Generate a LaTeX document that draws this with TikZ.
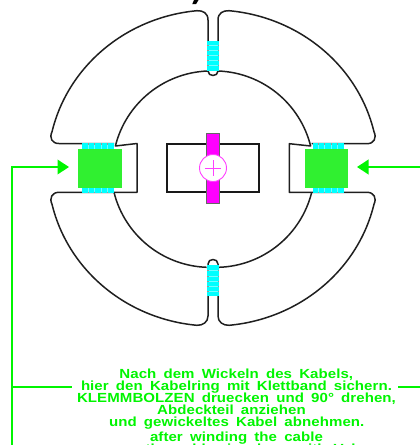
\documentclass[tikz,border=0pt]{standalone}
\usepackage{fontspec}
\setmainfont{Liberation Sans}
\newfontfamily\capfont[FakeStretch=1.14,WordSpace=1.7,LetterSpace=0.4,BoldFont={Liberation Sans Bold}]{Liberation Sans}
\definecolor{lime}{RGB}{0,245,0}
\definecolor{pad}{RGB}{48,240,48}
\definecolor{coil}{RGB}{0,255,255}
\definecolor{bolt}{RGB}{255,0,255}
\usetikzlibrary{arrows.meta}
\tikzset{
  body/.style={draw=black!88,line width=1.5pt,line join=round},
  heavy/.style={draw=black!90,line width=1.7pt},
  lead/.style={draw=lime,line width=2.1pt},
  pointer/.style={lead,-{Triangle[length=11.5pt,width=14.5pt]}},
  coilbox/.style={fill=coil,draw=none},
  tickglow/.style={draw=white!45!coil,line width=.6pt},
  tickdark/.style={draw=black!40,line width=.6pt},
  padbox/.style={fill=pad,draw=none},
  capline/.style={text=lime,font=\capfont\bfseries\fontsize{13.2}{13}\selectfont,inner sep=0pt,anchor=base}
}
\begin{document}
\begin{tikzpicture}[x=1pt,y=-1pt]
\useasboundingbox (0,0) rectangle (420,445);
% inner arcs
\draw[body] (208,71) arc[start angle=-92,end angle=-166,radius=99]
  -- (137,143.5) -- (137,192.3) -- (114,192.3);
\draw[body] (114,192.3) arc[start angle=166,end angle=92,radius=99];
\draw[body] (208,71) .. controls (208,77) and (218,77) .. (218,71);
\draw[body] (208,264) .. controls (208,258) and (218,258) .. (218,264);
\draw[body] (218,71) arc[start angle=-88,end angle=-14,radius=99]
  -- (289.3,143.7) -- (289.3,192.3) -- (311.7,192.3);
\draw[body] (311.7,192.3) arc[start angle=14,end angle=88,radius=99];
% outer
\draw[body] (208,71) -- (208,20) .. controls (208,13) and (203,10.5) .. (197,10.7)
  arc[start angle=-95.5,end angle=-167,x radius=165,y radius=157]
  .. controls (49,138) and (52,143.5) .. (59,143.5) -- (114,143.5);
\draw[body] (218,71) -- (218,20) .. controls (218,13) and (223,10.5) .. (229,10.7)
  arc[start angle=-84.5,end angle=-13,x radius=165,y radius=157]
  .. controls (377,138) and (374,143.7) .. (367,143.7) -- (311.7,143.7);
\draw[body] (208,264) -- (208,316) .. controls (208,322) and (203,325.5) .. (197,325.3)
  arc[start angle=95.5,end angle=167,x radius=165,y radius=157]
  .. controls (49,198) and (52,192.3) .. (59,192.3) -- (114,192.3);
\draw[body] (218,264) -- (218,316) .. controls (218,322) and (223,325.5) .. (229,325.3)
  arc[start angle=84.5,end angle=13,x radius=165,y radius=157]
  .. controls (377,198) and (374,192.3) .. (367,192.3) -- (311.7,192.3);
% coils
\fill[coilbox] (207,40.5) rectangle (219,71);
\fill[coilbox] (207,265) rectangle (219,295.7);
\fill[coilbox] (82,143) rectangle (113.7,149);
\fill[coilbox] (82,187.5) rectangle (113.7,193);
\fill[coilbox] (312.7,143) rectangle (344,149);
\fill[coilbox] (312.7,187.5) rectangle (344,193);
\foreach \k in {0,...,4}{
  \draw[tickglow] (207,45+5*\k) -- (219,45+5*\k);
  \draw[tickdark] (207,45+5*\k) -- (208.5,45+5*\k) (217.5,45+5*\k) -- (219,45+5*\k);
  \draw[tickglow] (207,270.7+5.1*\k) -- (219,270.7+5.1*\k);
  \draw[tickdark] (207,270.7+5.1*\k) -- (208.5,270.7+5.1*\k) (217.5,270.7+5.1*\k) -- (219,270.7+5.1*\k);
}
\foreach \k in {0,...,3}{
  \draw[tickglow] (88.3+6.3*\k,143) -- (88.3+6.3*\k,149);
  \draw[tickdark] (88.3+6.3*\k,143) -- (88.3+6.3*\k,144.5);
  \draw[tickglow] (88.3+6.3*\k,187.5) -- (88.3+6.3*\k,193);
  \draw[tickdark] (88.3+6.3*\k,191.5) -- (88.3+6.3*\k,193);
  \draw[tickglow] (318+6.5*\k,143) -- (318+6.5*\k,149);
  \draw[tickdark] (318+6.5*\k,143) -- (318+6.5*\k,144.5);
  \draw[tickglow] (318+6.5*\k,187.5) -- (318+6.5*\k,193);
  \draw[tickdark] (318+6.5*\k,191.5) -- (318+6.5*\k,193);
}
% pads
\fill[padbox] (78,148.5) rectangle (122,188);
\fill[padbox] (304.7,148.5) rectangle (348,188);
% bolt
\draw[heavy] (166.7,143.7) rectangle (259.3,192);
\filldraw[fill=bolt,draw=black!60,line width=.9pt] (206.5,133) rectangle (219.5,203);
\node[circle,draw=bolt!75,fill=white,line width=.9pt,minimum size=27pt,inner sep=0pt] (hub) at (213,168) {};
\draw[bolt!75,line width=.9pt] (205,168) -- (221,168) (213,160) -- (213,176);
% leads
\coordinate (lcorner) at (12,167);
\coordinate (ltip) at (69,167);
\coordinate (rstart) at (420,167);
\coordinate (rtip) at (357,167);
\coordinate (lbot) at (12,445);
\coordinate (lhbase) at (12,386.8);
\coordinate (lhend) at (72,386.8);
\coordinate (rhbase) at (398,386.8);
\coordinate (rhend) at (420,386.8);
\draw[lead,line cap=rect] (lbot) -- (lcorner);
\draw[pointer] (lcorner) -- (ltip);
\draw[pointer] (rstart) -- (rtip);
\draw[lead] (lhbase) -- (lhend);
\draw[lead] (rhbase) -- (rhend);
% stub of a title above the frame
\fill[black] (194,0) -- (198.5,0) -- (196,4.2) -- (192.2,4.2) -- cycle;
% text
\begin{scope}
\clip (0,0) rectangle (420,445);
\node[capline] (t1) at (236.3,378.3) {Nach dem Wickeln des Kabels,};
\node[capline] (t2) at (236.5,390) {hier den Kabelring mit Klettband sichern.};
\node[capline] (t3) at (236.5,402.5) {KLEMMBOLZEN druecken und 90° drehen,};
\node[capline] (t4) at (231.5,414.7) {Abdeckteil anziehen};
\node[capline] (t5) at (236.7,426) {und gewickeltes Kabel abnehmen.};
\node[capline] (t6) at (236.5,441.3) {after winding the cable};
\node[capline] (t7) at (236.5,453.5) {secure the cable ring here with Velcro.};
\end{scope}
\end{tikzpicture}
\end{document}
